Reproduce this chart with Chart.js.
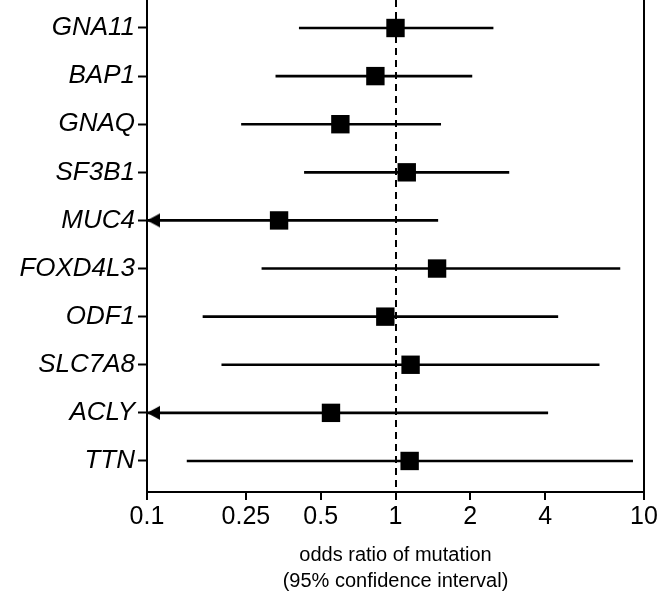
<!DOCTYPE html>
<html>
<head>
<meta charset="utf-8">
<script src="https://cdn.jsdelivr.net/npm/chart.js@4/dist/chart.umd.min.js"></script>
<style>
    body { margin: 0; background: #fff; }
</style>
</head>
<body>
<canvas id="forestChart" width="664" height="604"></canvas>
<script>
    // odds ratio of mutation per gene, 95% CI (null = below axis range)
    const genes = ['GNA11', 'BAP1', 'GNAQ', 'SF3B1', 'MUC4', 'FOXD4L3', 'ODF1', 'SLC7A8', 'ACLY', 'TTN'];
    const oddsRatio = [1.00, 0.83, 0.60, 1.11, 0.34, 1.47, 0.91, 1.15, 0.55, 1.14];
    const ciLower = [0.41, 0.33, 0.24, 0.43, null, 0.29, 0.168, 0.20, null, 0.145];
    const ciUpper = [2.47, 2.03, 1.52, 2.86, 1.48, 8.0, 4.5, 6.6, 4.1, 9.0];
    const xTicks = [0.1, 0.25, 0.5, 1, 2, 4, 10];
    const xMin = 0.1, xMax = 10;

    Chart.defaults.font.family = "'Liberation Sans', Arial, sans-serif";
    Chart.defaults.color = '#000';

    // left-pointing arrowhead, tip at the image centre
    const arrowLeft = document.createElement('canvas');
    arrowLeft.width = 32;
    arrowLeft.height = 16;
    const actx = arrowLeft.getContext('2d');
    actx.fillStyle = '#000';
    actx.beginPath();
    actx.moveTo(16, 8);
    actx.lineTo(29, 1);
    actx.lineTo(29, 15);
    actx.closePath();
    actx.fill();

    const ctx = document.getElementById('forestChart').getContext('2d');
    const forestChart = new Chart(ctx, {
        type: 'scatter',
        data: {
            datasets: [{
                label: 'odds ratio',
                data: genes.map((g, i) => ({ x: oddsRatio[i], y: i })),
                pointStyle: 'rect',
                pointRadius: 13,
                backgroundColor: '#000',
                borderWidth: 0
            }, {
                label: 'truncated',
                data: genes.map((g, i) => ({ x: ciLower[i] === null ? xMin : null, y: i })).filter(p => p.x !== null),
                pointStyle: arrowLeft,
                clip: false
            }, {
                type: 'bar',
                label: '95% CI',
                indexAxis: 'y',
                data: genes.map((g, i) => ({ x: [ciLower[i] ?? xMin, ciUpper[i]], y: i })),
                backgroundColor: '#000',
                borderWidth: 0,
                barThickness: 2,
                clip: 0
            }]
        },
        options: {
            responsive: false,
            animation: false,
            events: [],
            layout: { autoPadding: false, padding: { left: 0, right: 20, top: 0, bottom: 0 } },
            plugins: {
                legend: { display: false },
                tooltip: { enabled: false }
            },
            scales: {
                x: {
                    type: 'logarithmic',
                    min: xMin,
                    max: xMax,
                    afterBuildTicks: s => { s.ticks = xTicks.map(v => ({ value: v })); },
                    afterFit: s => { s.height = 112; },
                    ticks: {
                        autoSkip: false,
                        maxRotation: 0,
                        padding: 2,
                        font: { size: 25 },
                        callback: v => String(v)
                    },
                    grid: {
                        color: c => (c.tick && c.tick.value === 1 ? '#000' : 'rgba(0,0,0,0)'),
                        lineWidth: 2,
                        tickColor: '#000',
                        tickWidth: 2,
                        tickLength: 8
                    },
                    border: { color: '#000', width: 2, dash: [7, 5] },
                    title: {
                        display: true,
                        text: ['odds ratio of mutation', '(95% confidence interval)'],
                        font: { size: 20, lineHeight: 1.3 },
                        padding: { top: 0, bottom: 10 }
                    }
                },
                y: {
                    type: 'linear',
                    reverse: true,
                    offset: false,
                    min: -0.582,
                    max: 9.645,
                    afterBuildTicks: s => { s.ticks = genes.map((g, i) => ({ value: i })); },
                    afterFit: s => {
                        s.width = 147;
                        s.paddingTop = 0;
                        s.paddingBottom = 0;
                    },
                    ticks: {
                        autoSkip: false,
                        padding: 3,
                        font: { size: 26, style: 'italic' },
                        callback: v => genes[Math.round(v)]
                    },
                    grid: {
                        offset: false,
                        drawOnChartArea: false,
                        color: '#000',
                        tickColor: '#000',
                        tickWidth: 2,
                        tickLength: 9
                    },
                    border: { color: '#000', width: 2 }
                },
                y2: {
                    type: 'linear',
                    position: 'right',
                    afterFit: s => {
                        s.width = 0;
                        s.paddingTop = 0;
                        s.paddingBottom = 0;
                    },
                    ticks: { display: false },
                    grid: { display: false },
                    border: { color: '#000', width: 2 }
                }
            }
        }
    });
</script>
</body>
</html>
